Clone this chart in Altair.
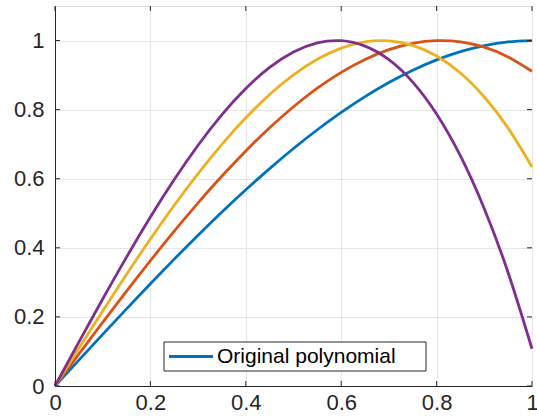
import altair as alt
import pandas as pd

x_vals = [0.0, 0.05, 0.1, 0.15, 0.2, 0.25, 0.3, 0.35, 0.4, 0.45, 0.5,
          0.55, 0.6, 0.65, 0.7, 0.75, 0.8, 0.85, 0.9, 0.95, 1.0]

blue = [0.0, 0.0749, 0.1495, 0.2233, 0.296, 0.3672, 0.4365, 0.5036, 0.568, 0.6294, 0.6875,
        0.7418, 0.792, 0.8377, 0.8785, 0.9141, 0.944, 0.9679, 0.9855, 0.9963, 1.0]
red = [0.0, 0.0925, 0.1843, 0.2746, 0.3629, 0.4483, 0.5302, 0.6078, 0.6805, 0.7476, 0.8083,
       0.862, 0.9079, 0.9453, 0.9736, 0.992, 0.9997, 0.9963, 0.9808, 0.9527, 0.911]
yellow = [0.0, 0.1093, 0.2174, 0.3232, 0.4255, 0.5232, 0.6149, 0.6997, 0.7764, 0.8437, 0.9005,
          0.9456, 0.9779, 0.9962, 0.9992, 0.986, 0.9553, 0.906, 0.8367, 0.7465, 0.6341]
purple = [0.0, 0.1268, 0.2518, 0.3731, 0.489, 0.5976, 0.697, 0.7855, 0.8611, 0.9222, 0.9669,
          0.9933, 0.9996, 0.9839, 0.9447, 0.8797, 0.7874, 0.6659, 0.5133, 0.3279, 0.1078]

series_names = ["Original polynomial", "s2", "s3", "s4"]
series_colors = ["#0072BD", "#D95319", "#EDB120", "#7E2F8E"]
legend_labels = ["Original polynomial"]
x_ticks = [0, 0.2, 0.4, 0.6, 0.8, 1]
y_ticks = [0, 0.2, 0.4, 0.6, 0.8, 1]

W, H = 477, 380
DARK = "#262626"
FONT = "Liberation Sans"

rows = []
for name, vals in zip(series_names, [blue, red, yellow, purple]):
    for xv, yv in zip(x_vals, vals):
        rows.append({"series": name, "x": xv, "y": yv})
df = pd.DataFrame(rows)

xs = alt.Scale(domain=[0, 1], nice=False)
ys = alt.Scale(domain=[0, 1.1], nice=False)

axis_common = dict(
    labelFont=FONT, labelFontSize=22, labelColor=DARK,
    domainColor=DARK, domainWidth=1, tickSize=0,
    gridColor="#e6e6e6", gridWidth=1, grid=True, title=None, format="~g",
    labelFlush=False, labelOverlap=False, labelBound=False,
)

base = alt.Chart(df)

lines = []
for name, col in zip(series_names, series_colors):
    sub = base.transform_filter(alt.datum.series == name)
    lines.append(
        sub.mark_line(strokeWidth=2.8, interpolate="natural", color=col).encode(
            x=alt.X("x:Q", scale=xs,
                    axis=alt.Axis(values=x_ticks, labelPadding=6, **axis_common)),
            y=alt.Y("y:Q", scale=ys,
                    axis=alt.Axis(values=y_ticks, labelPadding=11, **axis_common)),
        )
    )

xt = pd.DataFrame({"t": x_ticks})
yt = pd.DataFrame({"t": y_ticks})
xtick_bottom = alt.Chart(xt).mark_rule(color=DARK).encode(
    x=alt.X("t:Q", scale=xs), y=alt.value(H), y2=alt.value(H - 5))
xtick_top = alt.Chart(xt).mark_rule(color=DARK).encode(
    x=alt.X("t:Q", scale=xs), y=alt.value(0), y2=alt.value(5))
ytick_left = alt.Chart(yt).mark_rule(color=DARK).encode(
    y=alt.Y("t:Q", scale=ys), x=alt.value(0), x2=alt.value(5))
ytick_right = alt.Chart(yt).mark_rule(color=DARK).encode(
    y=alt.Y("t:Q", scale=ys), x=alt.value(W), x2=alt.value(W - 5))

# legend box (decoration)
leg_df = pd.DataFrame({"label": legend_labels})
leg_box = alt.Chart(leg_df).mark_rect(fill="white", stroke=DARK, strokeWidth=1).encode(
    x=alt.value(109), x2=alt.value(371), y=alt.value(336), y2=alt.value(365))
leg_line = alt.Chart(leg_df).mark_rule(color=series_colors[0], strokeWidth=2.8).encode(
    x=alt.value(114), x2=alt.value(158), y=alt.value(350.5))
leg_text = alt.Chart(leg_df).mark_text(
    align="left", baseline="middle", font=FONT, fontSize=21, color="#000000"
).encode(x=alt.value(162), y=alt.value(351), text="label:N")

chart = alt.layer(*lines, xtick_bottom, xtick_top, ytick_left, ytick_right,
                  leg_box, leg_line, leg_text).properties(
    width=W, height=H,
    autosize=alt.AutoSizeParams(type="none"),
    padding={"left": 55, "top": 6, "right": 5, "bottom": 31},
).configure_view(stroke=DARK, strokeWidth=1).configure(background="white")

chart.save("out.html", embed_options={"renderer": "svg", "actions": False})
